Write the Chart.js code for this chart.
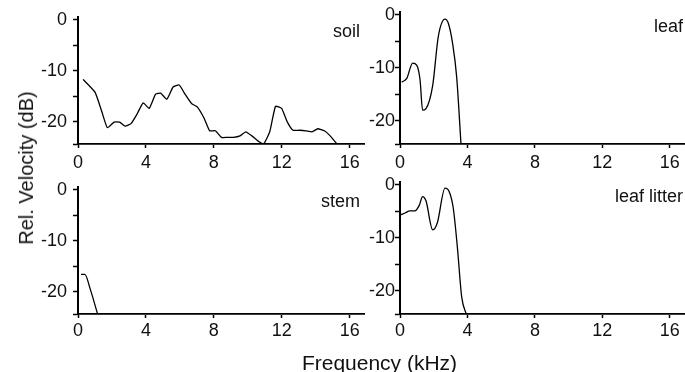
<!DOCTYPE html>
<html>
<head>
<meta charset="utf-8">
<script src="https://cdn.jsdelivr.net/npm/chart.js@4.4.1/dist/chart.umd.min.js"></script>
<style>
  body { margin: 0; background: #fff; }
  #page { position: relative; width: 685px; height: 372px; overflow: hidden; font-family: 'Liberation Sans', Arial, sans-serif; color: #111; }
  canvas { position: absolute; }
  .ylab { position: absolute; left: 26px; top: 167.5px; font-size: 20px; line-height: 20px; white-space: nowrap; transform: translate(-50%, -50%) rotate(-90deg); }
  .xlab { position: absolute; left: 379.5px; top: 352px; font-size: 21px; line-height: 21px; white-space: nowrap; transform: translateX(-50%); }
</style>
</head>
<body>
<div id="page">
  <canvas id="soil" width="365" height="180" style="left:0;top:0"></canvas>
  <canvas id="leaf" width="320" height="180" style="left:365px;top:0"></canvas>
  <canvas id="stem" width="365" height="202" style="left:0;top:170px"></canvas>
  <canvas id="litter" width="320" height="202" style="left:365px;top:170px"></canvas>
  <div class="ylab">Rel. Velocity (dB)</div>
  <div class="xlab">Frequency (kHz)</div>
</div>
<script>
// frequency (kHz) / relative velocity (dB)
const soilKHz = [0.3, 1.0, 1.4, 1.73, 2.13, 2.45, 2.78, 3.12, 3.48, 3.84, 4.19, 4.57, 4.87, 5.23, 5.6, 5.96, 6.3, 6.7, 7.02, 7.42, 7.75, 8.09, 8.45, 8.79, 9.15, 9.54, 9.88, 10.24, 10.64, 10.93, 11.29, 11.63, 11.99, 12.33, 12.66, 13.06, 13.42, 13.78, 14.12, 14.51, 14.85, 15.25];
const soilDb = [-11.7, -14.2, -18.0, -21.2, -20.1, -20.1, -20.9, -20.4, -18.5, -16.3, -17.4, -14.6, -14.4, -15.6, -13.2, -12.8, -14.6, -16.5, -17.1, -19.3, -21.8, -21.8, -23.1, -23.1, -23.1, -22.8, -22.0, -22.8, -23.9, -24.4, -22.0, -17.0, -17.4, -20.1, -21.7, -21.7, -21.8, -22.0, -21.4, -21.8, -22.8, -24.4];

const leafKHz = [0.1, 0.4, 0.75, 0.99, 1.19, 1.34, 1.54, 1.94, 2.27, 2.67, 2.87, 3.12, 3.36, 3.62];
const leafDb = [-12.7, -12.0, -9.1, -9.5, -12.3, -18.0, -17.7, -13.3, -4.1, -0.8, -1.6, -5.4, -11.7, -24.6];

const stemKHz = [0.18, 0.4, 0.73, 1.17];
const stemDb = [-16.6, -16.6, -19.6, -24.6];

const litterKHz = [0, 0.3, 0.59, 0.89, 1.15, 1.34, 1.54, 1.94, 2.21, 2.67, 2.92, 3.16, 3.4, 3.66, 3.95];
const litterDb = [-5.7, -5.3, -4.9, -4.9, -3.8, -2.2, -3.0, -8.5, -7.2, -0.6, -1.3, -4.4, -11.7, -21.2, -24.6];

const xTicks = [0, 4, 8, 12, 16];
const yTicks = [-20, -15, -10, -5, 0];
const xMin = 0, xMax = 16.9;
const yMin = -24.4, yMax = 0.6;

const FONT = "'Liberation Sans', Arial, sans-serif";

// small label in the upper right corner of each panel
const panelLabel = {
  id: 'panelLabel',
  afterDraw(chart, args, opts) {
    const ctx = chart.ctx, a = chart.chartArea;
    ctx.save();
    ctx.font = '18px ' + FONT;
    ctx.fillStyle = '#111';
    ctx.textAlign = 'right';
    ctx.textBaseline = 'alphabetic';
    ctx.fillText(opts.text, a.right - opts.dx, a.top + 20);
    ctx.restore();
  }
};

function makePanel(id, name, freqs, dbs, p) {
  const pts = freqs.map((f, i) => ({ x: f, y: dbs[i] }));
  new Chart(document.getElementById(id), {
    type: 'line',
    data: {
      datasets: [{
        data: pts,
        borderColor: '#000',
        borderWidth: 1.3,
        pointRadius: 0,
        tension: p.tension || 0,
        cubicInterpolationMode: p.mono ? 'monotone' : 'default',
        fill: false
      }]
    },
    options: {
      responsive: false,
      animation: false,
      devicePixelRatio: 1,
      layout: { padding: { top: p.top, right: 0, left: 0, bottom: 0 } },
      plugins: {
        legend: { display: false },
        tooltip: { enabled: false },
        panelLabel: { text: name, dx: p.dx }
      },
      scales: {
        x: {
          type: 'linear',
          min: xMin, max: xMax,
          afterFit: s => { s.height = p.xH; },
          afterBuildTicks: s => { s.ticks = xTicks.map(v => ({ value: v })); },
          border: { display: true, color: '#000', width: 1.8 },
          grid: { drawOnChartArea: false, drawTicks: true, tickLength: 4, tickColor: '#000', tickWidth: 1.5 },
          ticks: { color: '#111', font: { family: FONT, size: 18 }, padding: p.xPad, maxRotation: 0, callback: v => String(v) }
        },
        y: {
          type: 'linear',
          min: yMin, max: yMax,
          afterFit: s => { s.width = p.yW; },
          afterBuildTicks: s => { s.ticks = [yMin].concat(yTicks).map(v => ({ value: v })); },
          border: { display: true, color: '#000', width: 2 },
          grid: { drawOnChartArea: false, drawTicks: true, tickLength: 5, tickColor: '#000', tickWidth: 1.5 },
          ticks: { color: '#111', font: { family: FONT, size: 18 }, padding: p.yPad, callback: v => (v % 10 === 0 ? String(v) : '') }
        }
      }
    },
    plugins: [panelLabel]
  });
}

makePanel('soil', 'soil', soilKHz, soilDb, { top: 11.8, xH: 36, yW: 78, xPad: 4.5, yPad: 6, dx: 5, tension: 0.15 });
makePanel('leaf', 'leaf', leafKHz, leafDb, { top: 11.8, xH: 36, yW: 35, xPad: 4.5, yPad: 0, dx: 2, mono: true });
makePanel('stem', 'stem', stemKHz, stemDb, { top: 11.8, xH: 58, yW: 78, xPad: 2, yPad: 6, dx: 5, mono: true });
makePanel('litter', 'leaf litter', litterKHz, litterDb, { top: 11.8, xH: 58, yW: 35, xPad: 2, yPad: 0, dx: 2, mono: true });
</script>
</body>
</html>
